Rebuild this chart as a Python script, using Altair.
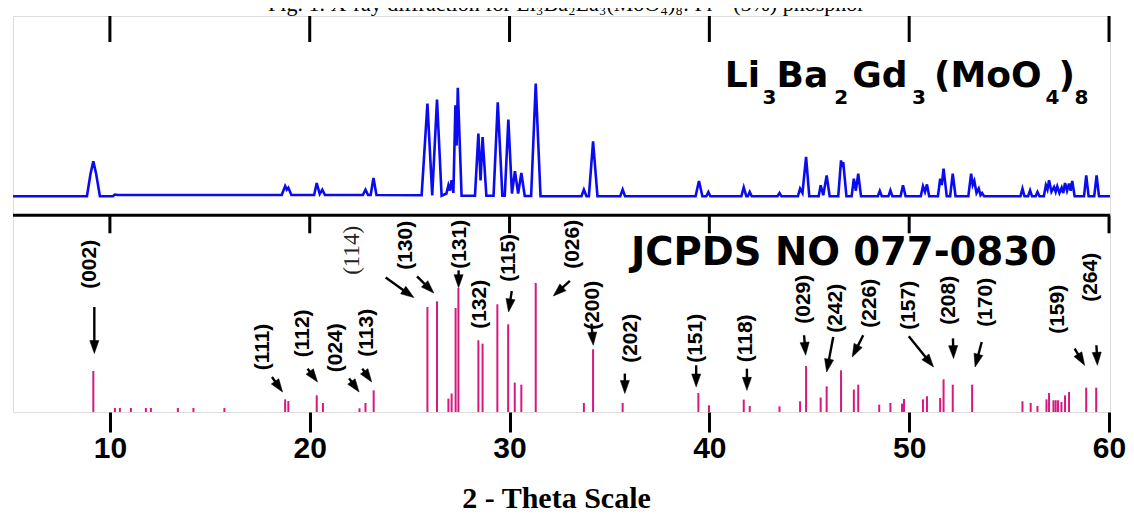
import math
import altair as alt
import pandas as pd

# ---------------- data ----------------
profile_theta = [5.15, 8.85, 9.03, 9.17, 9.31, 9.5, 10.15, 10.25, 10.4,
    18.6, 18.77, 18.85, 18.93, 19.08, 20.22, 20.35, 20.5, 20.63, 20.76,
    22.66, 22.79, 22.92, 23.05, 23.19, 23.34,
    25.6, 25.89, 26.13, 26.37, 26.6, 26.84, 26.94, 27.02, 27.1, 27.19, 27.29, 27.35, 27.41, 27.6,
    28.27, 28.44, 28.55, 28.65, 28.84, 29.2, 29.41, 29.64, 29.76, 29.94, 30.12, 30.27, 30.43, 30.59, 30.76,
    31.08, 31.31, 31.55, 33.6, 33.72, 33.85, 33.97, 34.18, 34.4, 35.54, 35.66, 35.78,
    39.31, 39.48, 39.65, 39.85, 39.95, 40.05, 41.6, 41.72, 41.85, 41.93, 42.02, 42.12,
    43.41, 43.51, 43.61, 44.43, 44.54, 44.66, 44.84, 45.0, 45.47, 45.57, 45.7, 45.87, 46.02,
    46.45, 46.59, 46.65, 46.7, 46.86, 47.12, 47.23, 47.33, 47.45, 47.59,
    48.43, 48.53, 48.63, 48.96, 49.06, 49.16, 49.57, 49.69, 49.82,
    50.58, 50.69, 50.79, 50.89, 51.0, 51.44, 51.55, 51.63, 51.72, 51.88, 52.05, 52.18, 52.32,
    52.96, 53.1, 53.18, 53.26, 53.37, 53.48, 53.57, 53.65, 53.75,
    55.57, 55.67, 55.77, 55.95, 56.05, 56.15, 56.33, 56.42, 56.52,
    56.74, 56.84, 56.92, 57.0, 57.12, 57.25, 57.33, 57.41, 57.52, 57.63, 57.71, 57.8, 57.9, 58.0, 58.08, 58.16, 58.28,
    58.75, 58.86, 58.98, 59.26, 59.38, 59.5, 60.05]
profile_int = [0, 0, 20, 31.1, 20, 0, 0, 1.6, 1.2,
    1.2, 9.1, 6.0, 7.7, 1.2, 1.2, 11.8, 2.0, 5.9, 1.2,
    1.2, 5.9, 1.2, 1.2, 16.2, 1.2,
    1.0, 82.3, 0.8, 85.8, 0.5, 2.5, 9.8, 5.0, 14.2, 3.0, 80.7, 45, 96.4, 0.5,
    0.5, 55.6, 14, 52.6, 0.5, 0.5, 83.4, 0.5, 0.5, 68.1, 2.5, 22.4, 2.5, 20.7, 0.3,
    0.3, 100, 0, 0, 5.9, 0, 0, 48.8, 0, 0, 5.9, 0,
    0, 13.6, 0, 0, 3.8, 0, 0, 8.0, 0, 0, 3.8, 0,
    0, 2.9, 0, 0, 6.8, 3.0, 34.9, 0, 0, 9.8, 1.0, 18.6, 0,
    0, 31.9, 26, 30.4, 0, 0, 15.7, 5.0, 20.1, 0,
    0, 4.7, 0, 0, 5.3, 0, 0, 9.8, 0,
    0, 8.9, 4.0, 10.6, 0, 0, 15.7, 10, 24.6, 0, 0, 20.1, 0,
    0, 20.1, 10, 13.6, 3.0, 6.8, 1.0, 2.9, 0,
    0, 6.8, 0, 0, 5.3, 0, 0, 3.8, 0,
    0, 9.8, 6, 14.2, 4, 8.3, 4, 8.9, 3, 7.7, 3, 11.8, 5, 11.3, 5, 13.6, 0,
    0, 18.6, 0, 0, 18.6, 0, 0]

# JCPDS 077-0830 reference lines, relative intensity (max = 100)
stick_theta = [9.17, 10.25, 10.5, 11.05, 11.8, 12.05, 13.4, 14.18, 15.73,
    18.77, 18.93, 20.35, 20.66, 22.49, 22.79, 23.2,
    25.89, 26.37, 26.94, 27.1, 27.3, 27.44, 28.44, 28.65, 29.39, 29.93, 30.26, 30.59, 31.31,
    33.72, 34.18, 35.66, 39.45, 39.98, 41.72, 42.02, 43.51, 44.54, 44.84, 45.57, 45.87,
    46.59, 47.23, 47.45, 48.5, 49.06, 49.64, 49.74, 50.69, 50.89, 51.55, 51.72, 52.18, 53.15,
    55.67, 56.08, 56.42, 56.87, 57.0, 57.22, 57.33, 57.45, 57.62, 57.8, 58.0, 58.86, 59.36]
stick_int = [31.8, 3.1, 3.1, 3.1, 3.1, 3.1, 3.1, 3.1, 3.1,
    9.8, 8.5, 12.9, 7.0, 2.9, 7.0, 16.8,
    81.4, 85.8, 10.4, 14.3, 80.6, 96.1, 55.6, 53.0, 83.5, 68.0, 22.8, 21.2, 100,
    7.0, 48.6, 7.0, 14.7, 5.2, 9.6, 4.7, 4.4, 8.3, 35.7, 11.2, 19.9,
    32.3, 17.4, 21.2, 5.7, 7.0, 6.5, 10.1, 9.8, 12.2, 10.9, 25.3, 21.2, 21.2,
    8.3, 7.0, 4.7, 9.8, 14.7, 9.1, 9.1, 9.1, 7.8, 12.9, 15.5, 18.9, 18.9]

tick_values = [10, 20, 30, 40, 50, 60]

# (hkl) labels: centre position in (2-theta, reference-intensity units)
hkl_text = ["(002)", "(111)", "(112)", "(024)", "(113)", "(130)", "(131)", "(132)",
    "(115)", "(026)", "(200)", "(202)", "(151)", "(118)", "(029)", "(242)", "(226)",
    "(157)", "(208)", "(170)", "(159)", "(264)"]
hkl_theta = [9.00, 17.65, 19.68, 21.31, 22.88, 24.80, 27.54, 28.54,
    29.95, 33.19, 34.19, 36.09, 39.34, 41.83, 44.74, 46.32, 48.06,
    49.98, 51.97, 53.85, 57.46, 59.12]
hkl_int = [114.5, 50.4, 61.0, 49.8, 61.4, 129.2, 130.0, 83.5,
    119.5, 130.0, 82.7, 57.1, 57.1, 57.1, 87.4, 80.4, 84.3,
    82.7, 86.6, 85.0, 79.6, 104.4]
extra_label = "(114)"
extra_theta = 22.13
extra_int = 125.3

# arrows: start (theta, int) -> tip (theta, int)
arrow_x1 = [9.22, 18.11, 19.89, 21.97, 22.63, 23.80, 25.37, 27.45, 30.11, 33.02, 34.10,
    35.77, 39.34, 41.88, 44.74, 46.20, 47.70, 49.98, 52.19, 53.63, 58.28, 59.37]
arrow_y1 = [81.4, 27.1, 33.6, 26.1, 33.6, 104.2, 105.2, 109.8, 93.8, 101.6, 68.5,
    29.8, 36.2, 33.6, 59.5, 58.1, 59.5, 58.7, 57.1, 54.3, 49.1, 51.7]
arrow_x2 = [9.22, 18.64, 20.39, 22.47, 23.10, 25.21, 26.21, 27.45, 29.95, 32.19, 34.19,
    35.77, 39.34, 41.88, 44.82, 45.87, 47.15, 51.22, 52.22, 53.30, 58.78, 59.42]
arrow_y2 = [45.3, 15.5, 23.3, 15.5, 23.3, 88.7, 92.2, 96.4, 77.5, 89.9, 51.7,
    14.3, 19.4, 16.8, 44.0, 31.0, 42.6, 34.9, 41.4, 34.9, 36.2, 36.2]

formula_parts = ["Li", "3", "Ba", "2", "Gd", "3", "(MoO", "4", ")", "8"]
formula_theta = [40.77, 42.66, 43.36, 46.25, 47.15, 50.14, 51.24, 56.82, 57.47, 58.27]
formula_sub = [0, 1, 0, 1, 0, 1, 0, 1, 0, 1]

card_text = "JCPDS NO 077-0830"
caption_text = "Fig. 1. X-ray diffraction for Li\u2083Ba\u2082La\u2083(MoO\u2084)\u2088: Pr\u00b3\u207a (5%) phosphor"
x_title = "2 - Theta Scale"

# ---------------- layout / styling ----------------
W, H = 1097, 396
X_DOM = [5.15, 60.05]
TOP_DOM = [-191.4, 160.0]     # measured pattern scale (top panel)
BOT_DOM = [0.0, 307.0]        # reference-card scale (bottom panel)
PANEL_SPLIT = 152.5           # boundary between panels, in card units
BLUE = "#0b0bf0"
PINK = "#d6187f"

px_x = W / (X_DOM[1] - X_DOM[0])
px_y = H / (BOT_DOM[1] - BOT_DOM[0])

xaxis = alt.Axis(values=tick_values, domain=False, grid=False, tickSize=20, tickWidth=3,
                 tickColor="black", labelFont="Liberation Sans",
                 labelFontSize=30, labelFontWeight="bold", labelColor="black", labelPadding=1,
                 labelFlush=False, title=x_title, titleFont="Liberation Serif", titleFontSize=30,
                 titleFontWeight="bold", titleColor="black", titleX=543, titleY=95,
                 titleBaseline="alphabetic", titleAlign="center")
xs = alt.Scale(domain=X_DOM, nice=False, zero=False)


def X(field):
    return alt.X(field, type="quantitative", scale=xs, axis=xaxis)


def YB(field):
    return alt.Y(field, type="quantitative", scale=alt.Scale(domain=BOT_DOM, nice=False, zero=False), axis=None)


def YT(field):
    return alt.Y(field, type="quantitative", scale=alt.Scale(domain=TOP_DOM, nice=False, zero=False), axis=None)


profile = pd.DataFrame({"theta": profile_theta, "I": profile_int})
sticks = pd.DataFrame({"theta": stick_theta, "I": stick_int, "base": 0.0})
ticks = pd.DataFrame({"theta": tick_values})
ticks["top1"] = BOT_DOM[1]
ticks["top2"] = BOT_DOM[1] - 26 / px_y
ticks["mid1"] = PANEL_SPLIT
ticks["mid2"] = PANEL_SPLIT - 18 / px_y
labels = pd.DataFrame({"t": hkl_text, "theta": hkl_theta, "I": hkl_int})
extra = pd.DataFrame({"t": [extra_label], "theta": [extra_theta], "I": [extra_int]})

arr = pd.DataFrame({"x1": arrow_x1, "y1": arrow_y1, "x2": arrow_x2, "y2": arrow_y2})
dxp = (arr.x2 - arr.x1) * px_x
dyp = -(arr.y2 - arr.y1) * px_y
L = (dxp ** 2 + dyp ** 2) ** 0.5
arr["ang"] = [(math.degrees(math.atan2(a, -b)) + 360) % 360 for a, b in zip(dxp, dyp)]
arr["xs"] = arr.x2 - (dxp / L) * 8 / px_x
arr["ys"] = arr.y2 + (dyp / L) * 8 / px_y

formula = pd.DataFrame({"t": formula_parts, "theta": formula_theta, "sub": formula_sub})
formula["y"] = [82.3 if s else 96.7 for s in formula_sub]
formula["fs"] = [20 if s else 36 for s in formula_sub]

line = alt.Chart(profile).mark_line(color=BLUE, strokeWidth=2.6).encode(x=X("theta"), y=YT("I"))

stick_layer = alt.Chart(sticks).mark_rule(color=PINK, strokeWidth=2).encode(
    x=X("theta"), y=YB("base"), y2="I")

mid_line = alt.Chart(pd.DataFrame({"y": [PANEL_SPLIT]})).mark_rule(color="black", strokeWidth=3).encode(
    y=YB("y"), x=alt.value(0), x2=alt.value(W))

top_ticks = alt.Chart(ticks).mark_rule(color="black", strokeWidth=3).encode(
    x=X("theta"), y=YB("top1"), y2="top2")
mid_ticks = alt.Chart(ticks).mark_rule(color="black", strokeWidth=3).encode(
    x=X("theta"), y=YB("mid1"), y2="mid2")

hkl = alt.Chart(labels).mark_text(font="Liberation Sans", fontSize=21, fontWeight="bold", angle=270,
                                  align="center", baseline="middle", color="black").encode(
    x=X("theta"), y=YB("I"), text="t")
hkl2 = alt.Chart(extra).mark_text(font="Liberation Serif", fontSize=23, angle=270,
                                  align="center", baseline="middle", color="#222222").encode(
    x=X("theta"), y=YB("I"), text="t")

shafts = alt.Chart(arr).mark_rule(color="black", strokeWidth=2.4).encode(
    x=X("x1"), y=YB("y1"), x2="xs", y2="ys")
heads = alt.Chart(arr).mark_point(shape="M0,0L-0.7,2L0.7,2Z", filled=True, fill="black",
                                  stroke="black", strokeWidth=0.5, size=169, opacity=1).encode(
    x=X("x2"), y=YB("y2"), angle=alt.Angle("ang:Q", scale=None))

formula_layer = alt.Chart(formula).mark_text(font="DejaVu Sans", fontWeight="bold", align="left",
                                             baseline="alphabetic", color="black").encode(
    x=X("theta"), y=YT("y"), text="t", size=alt.Size("fs:Q", scale=None, legend=None))

card = alt.Chart(pd.DataFrame({"t": [card_text], "theta": [36.08], "y": [113.7]})).mark_text(
    font="DejaVu Sans", fontWeight="bold", fontSize=38.5, align="left", baseline="alphabetic",
    color="black").encode(x=X("theta"), y=YB("y"), text="t")

caption = alt.Chart(pd.DataFrame({"t": [caption_text], "theta": [32.84], "y": [310.5]})).mark_text(
    font="Liberation Serif", fontSize=22, align="center", baseline="alphabetic", color="black").encode(
    x=X("theta"), y=YB("y"), text="t")

chart = alt.layer(line, stick_layer, mid_line, top_ticks, mid_ticks, hkl, hkl2, shafts, heads,
                  formula_layer, card, caption).resolve_scale(y="independent").properties(
    width=W, height=H, autosize=alt.AutoSizeParams(type="none"),
    padding={"left": 5, "top": 8, "right": 16, "bottom": 103}
).configure_view(stroke="black", strokeWidth=3).configure(background="white")

chart.save("out.html", embed_options={"renderer": "svg", "actions": False})
